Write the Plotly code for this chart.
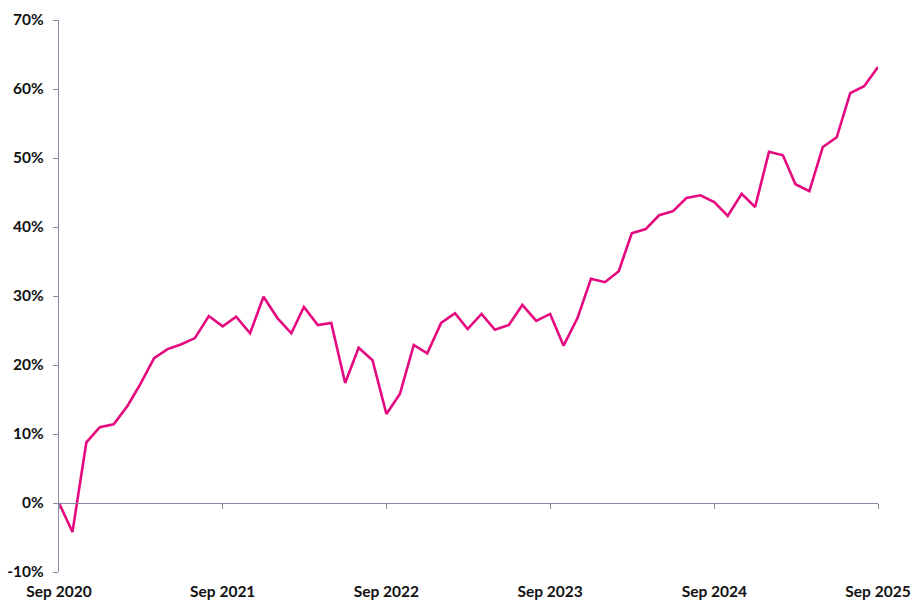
import plotly.graph_objects as go
import pandas as pd

dates = pd.date_range("2020-09-01", "2025-09-01", freq="MS")
values = [0.0, -4.2, 8.8, 11.0, 11.4, 14.1, 17.2, 21.0, 22.3, 23.0,
          23.9, 27.1, 25.6, 27.0, 24.6, 29.9, 26.8, 24.6, 28.4, 25.8,
          26.1, 17.4, 22.5, 20.7, 12.9, 15.8, 22.9, 21.7, 26.1, 27.5,
          25.2, 27.4, 25.1, 25.8, 28.7, 26.4, 27.4, 22.8, 26.8, 32.5,
          32.0, 33.6, 39.1, 39.7, 41.7, 42.3, 44.2, 44.6, 43.6, 41.6,
          44.8, 42.9, 50.9, 50.4, 46.2, 45.2, 51.6, 53.0, 59.4, 60.4,
          63.2]
x_ticks = pd.date_range("2020-09-01", "2025-09-01", freq="12MS")
x_tick_labels = [d.strftime("%b %Y") for d in x_ticks]
y_ticks = [-10, 0, 10, 20, 30, 40, 50, 60, 70]
y_tick_labels = [f"{v}%" for v in y_ticks]

axis_col = "#8b88a6"
text_col = "#111111"
font = dict(family="Lato", size=15.5, color=text_col, weight=700)

fig = go.Figure()
fig.add_trace(go.Scatter(x=dates, y=values, mode="lines",
                         line=dict(color="#e5097f", width=2.6),
                         showlegend=False, hoverinfo="skip"))
fig.add_trace(go.Scatter(x=[dates[0]], y=[0], xaxis="x2", mode="lines",
                         line=dict(width=0), showlegend=False, hoverinfo="skip"))

xr = [dates[0], dates[-1]]
fig.update_layout(
    width=912, height=602,
    margin=dict(l=59, r=34, t=20, b=30),
    paper_bgcolor="white", plot_bgcolor="white",
    font=font,
    xaxis=dict(range=xr, tickvals=x_ticks, ticktext=x_tick_labels,
               showgrid=False, zeroline=False, showline=False, ticks="",
               tickfont=font, ticklabelstandoff=8, automargin=False),
    xaxis2=dict(range=xr, overlaying="x", anchor="free", position=0.125,
                tickvals=x_ticks, showticklabels=False, showgrid=False,
                zeroline=False, showline=True, linecolor=axis_col, linewidth=1.2,
                ticks="outside", ticklen=5, tickcolor=axis_col, tickwidth=1.2,
                automargin=False),
    yaxis=dict(range=[-10, 70], tickvals=y_ticks, ticktext=y_tick_labels,
               showgrid=False, zeroline=False, showline=True,
               linecolor=axis_col, linewidth=1.2,
               ticks="outside", ticklen=5, tickcolor=axis_col, tickwidth=1.2,
               tickfont=font, ticklabelstandoff=6, automargin=False),
)
fig.write_html("out.html",
               config={"displayModeBar": False},
               post_script="document.body.style.margin='0';"
                           "document.body.style.overflow='hidden';")
